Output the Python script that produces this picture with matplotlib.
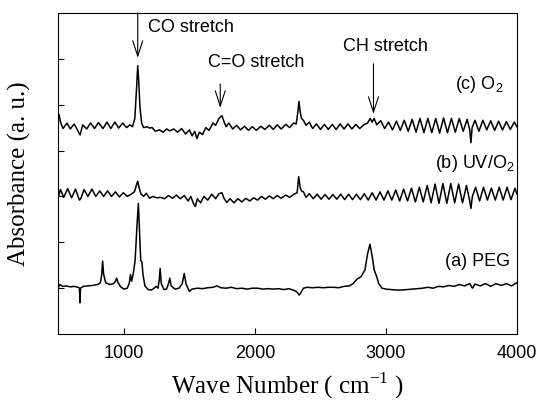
import numpy as np
import matplotlib
matplotlib.use("Agg")
import matplotlib.pyplot as plt

# spectra (wave number in cm-1, absorbance in a.u.)
wn_a = [500, 510, 530, 560, 590, 620, 650, 660, 664, 668, 690, 720, 760, 800, 820, 830, 837, 845,
        860, 890, 920, 935, 944, 955, 975, 1000, 1025, 1040, 1050, 1058, 1070, 1085, 1100, 1110,
        1118, 1128, 1137, 1145, 1160, 1185, 1210, 1230, 1245, 1260, 1270, 1276, 1285, 1305, 1325,
        1340, 1350, 1360, 1390, 1420, 1445, 1460, 1475, 1500, 1520, 1560, 1600, 1640, 1680, 1710,
        1740, 1780, 1820, 1860, 1900, 1940, 1980, 2020, 2060, 2100, 2140, 2180, 2220, 2260, 2300,
        2320, 2338, 2350, 2370, 2400, 2440, 2480, 2520, 2560, 2600, 2640, 2680, 2720, 2750, 2780,
        2810, 2840, 2860, 2878, 2895, 2910, 2930, 2945, 2970, 3000, 3040, 3080, 3120, 3160, 3200,
        3240, 3280, 3320, 3360, 3400, 3440, 3480, 3520, 3560, 3600, 3640, 3660, 3680, 3720, 3760,
        3800, 3840, 3880, 3920, 3960, 4000]
ab_a = [1.02, 1.08, 1.04, 1.05, 1.03, 1.04, 1.02, 1.0, 0.68, 1.0, 1.04, 1.05, 1.06, 1.08, 1.12,
        1.3, 1.59, 1.3, 1.12, 1.08, 1.1, 1.15, 1.22, 1.12, 1.03, 0.98, 1.0, 1.1, 1.3, 1.15, 1.3,
        1.6, 2.4, 2.85, 2.3, 1.6, 1.57, 1.3, 1.05, 0.97, 0.96, 1.0, 1.04, 1.0, 1.2, 1.43, 1.1, 0.97,
        0.98, 1.1, 1.22, 1.05, 0.98, 1.0, 1.1, 1.32, 1.08, 0.93, 0.98, 1.0, 0.99, 1.01, 1.02, 1.05,
        1.01, 1.0, 1.02, 0.99, 1.0, 0.98, 1.0, 1.0, 0.98, 0.99, 0.98, 0.99, 0.97, 0.99, 0.95, 0.92,
        0.85, 0.9, 1.0, 1.02, 1.01, 1.02, 1.01, 1.02, 1.02, 1.01, 1.04, 1.05, 1.1, 1.2, 1.25, 1.4,
        1.75, 1.96, 1.7, 1.4, 1.25, 1.1, 1.0, 0.98, 0.97, 0.96, 0.96, 0.97, 0.98, 0.99, 1.0, 1.02,
        1.0, 1.04, 1.03, 1.06, 1.04, 1.08, 1.05, 1.1, 1.0, 1.09, 1.05, 1.1, 1.04, 1.1, 1.06, 1.1,
        1.05, 1.12]

wn_b = [500, 515, 540, 570, 600, 630, 660, 670, 695, 725, 755, 785, 815, 845, 875, 905, 935, 965,
        995, 1025, 1055, 1080, 1095, 1105, 1115, 1130, 1150, 1170, 1195, 1220, 1250, 1280, 1310,
        1340, 1370, 1400, 1430, 1460, 1490, 1510, 1530, 1545, 1560, 1585, 1610, 1640, 1670, 1700,
        1725, 1748, 1765, 1785, 1810, 1840, 1870, 1900, 1930, 1960, 1990, 2020, 2050, 2080, 2110,
        2140, 2170, 2200, 2235, 2265, 2300, 2322, 2334, 2345, 2355, 2370, 2390, 2415, 2445, 2475,
        2505, 2535, 2565, 2595, 2625, 2655, 2685, 2715, 2745, 2775, 2805, 2835, 2865, 2895, 2925,
        2955, 2985, 3015, 3045, 3075, 3105, 3135, 3165, 3195, 3225, 3255, 3285, 3315, 3345, 3375,
        3405, 3435, 3465, 3495, 3525, 3555, 3585, 3615, 3640, 3649, 3660, 3685, 3715, 3745, 3775,
        3805, 3835, 3865, 3895, 3925, 3955, 3985, 4000]
ab_b = [3.0, 3.15, 2.98, 3.17, 2.97, 3.16, 2.92, 2.95, 3.15, 3.0, 3.16, 3.0, 3.12, 3.0, 3.12, 3.0,
        3.1, 2.99, 3.08, 3.0, 3.05, 3.1, 3.25, 3.33, 3.2, 3.05, 3.0, 3.07, 2.96, 3.0, 2.97, 2.98,
        2.95, 3.02, 2.96, 3.03, 2.95, 3.02, 2.9, 3.0, 2.85, 2.78, 2.95, 2.86, 3.0, 2.92, 3.05, 2.95,
        3.06, 3.08, 2.95, 2.87, 2.95, 2.86, 2.95, 2.88, 2.96, 2.9, 2.97, 2.92, 3.0, 2.94, 3.01,
        2.95, 3.02, 2.96, 3.03, 2.98, 3.05, 3.08, 3.43, 3.2, 3.12, 3.1, 2.98, 3.06, 2.95, 3.05,
        2.94, 3.04, 2.94, 3.04, 2.94, 3.05, 2.93, 3.05, 2.93, 3.05, 2.93, 3.06, 2.92, 3.08, 2.92,
        3.1, 2.92, 3.12, 2.92, 3.14, 2.9, 3.16, 2.9, 3.18, 2.88, 3.2, 2.88, 3.24, 2.86, 3.27,
        2.85, 3.28, 2.85, 3.28, 2.86, 3.27, 2.86, 3.24, 2.9, 2.74, 3.0, 3.2, 2.9, 3.2, 2.92,
        3.18, 2.92, 3.2, 2.92, 3.2, 2.93, 3.18, 3.05]

wn_c = [505, 515, 535, 565, 590, 620, 650, 665, 685, 715, 745, 775, 805, 840, 870, 900, 930, 960,
        990, 1020, 1045, 1065, 1083, 1095, 1105, 1113, 1122, 1135, 1150, 1175, 1195, 1215, 1240,
        1270, 1300, 1325, 1350, 1380, 1410, 1440, 1470, 1500, 1520, 1540, 1557, 1575, 1600, 1625,
        1650, 1680, 1700, 1725, 1748, 1765, 1780, 1800, 1830, 1860, 1890, 1920, 1950, 1980, 2010,
        2045, 2075, 2110, 2140, 2170, 2200, 2235, 2265, 2295, 2315, 2328, 2336, 2345, 2355, 2370,
        2390, 2415, 2440, 2470, 2500, 2530, 2560, 2590, 2620, 2650, 2680, 2710, 2740, 2770, 2800,
        2830, 2860, 2880, 2895, 2910, 2930, 2960, 2990, 3020, 3050, 3080, 3110, 3140, 3170, 3200,
        3230, 3260, 3290, 3320, 3350, 3380, 3410, 3440, 3470, 3500, 3530, 3560, 3590, 3620, 3640,
        3649, 3658, 3680, 3710, 3740, 3770, 3800, 3830, 3860, 3890, 3920, 3950, 3980, 4000]
ab_c = [4.78, 4.62, 4.48, 4.6, 4.47, 4.58, 4.42, 4.34, 4.56, 4.47, 4.6, 4.48, 4.61, 4.48, 4.62,
        4.48, 4.62, 4.49, 4.6, 4.5, 4.56, 4.52, 4.7, 5.3, 5.85, 5.5, 4.95, 4.6, 4.5, 4.52, 4.49,
        4.5, 4.42, 4.45, 4.4, 4.47, 4.43, 4.47, 4.4, 4.48, 4.36, 4.45, 4.32, 4.42, 4.26, 4.4, 4.35,
        4.5, 4.44, 4.6, 4.55, 4.7, 4.76, 4.62, 4.52, 4.6, 4.47, 4.55, 4.45, 4.53, 4.44, 4.52, 4.44,
        4.53, 4.46, 4.55, 4.46, 4.56, 4.47, 4.57, 4.5, 4.6, 4.58, 4.85, 5.07, 4.85, 4.7, 4.66,
        4.55, 4.62, 4.48, 4.58, 4.46, 4.57, 4.46, 4.57, 4.46, 4.58, 4.47, 4.58, 4.47, 4.57, 4.48,
        4.56, 4.6, 4.7, 4.62, 4.7, 4.56, 4.65, 4.48, 4.62, 4.45, 4.64, 4.44, 4.66, 4.42, 4.68,
        4.4, 4.7, 4.39, 4.7, 4.39, 4.7, 4.38, 4.71, 4.39, 4.7, 4.4, 4.7, 4.42, 4.68, 4.45,
        4.17, 4.5, 4.66, 4.42, 4.66, 4.45, 4.65, 4.44, 4.64, 4.45, 4.63, 4.46, 4.62, 4.52]

fig = plt.figure(figsize=(5.39, 4.03), dpi=100)
ax = fig.add_axes([0.1085, 0.171, 0.8505, 0.797])

for wn, ab in [(wn_a, ab_a), (wn_b, ab_b), (wn_c, ab_c)]:
    ax.plot(wn, ab, color="black", lw=1.1)

sans = "Liberation Sans"
serif = "Liberation Serif"
arr = dict(arrowstyle="->,head_length=1.1,head_width=0.36", color="black", lw=0.8,
           shrinkA=0, shrinkB=0)

# peak markers
ax.annotate("", xy=(1105, 6.02), xytext=(1105, 7.0), arrowprops=arr)
ax.annotate("", xy=(1735, 4.93), xytext=(1735, 5.45), arrowprops=arr)
ax.annotate("", xy=(2905, 4.8), xytext=(2905, 5.89), arrowprops=arr)
ax.text(1183, 6.68, "CO stretch", family=sans, fontsize=13, va="center", ha="left")
ax.text(1641, 5.92, "C=O stretch", family=sans, fontsize=13, va="center", ha="left")
ax.text(2672, 6.26, "CH stretch", family=sans, fontsize=13, va="center", ha="left")

ax.text(3527, 5.43, r"(c) O$_\mathregular{2}$", family=sans, fontsize=13, va="center")
ax.text(3374, 3.72, r"(b) UV/O$_\mathregular{2}$", family=sans, fontsize=13, va="center")
ax.text(3450, 1.58, "(a) PEG", family=sans, fontsize=13, va="center")

ax.set_xlim(500, 4000)
ax.set_ylim(0, 7)
ax.set_xticks([1000, 2000, 3000, 4000])
ax.set_yticks([1, 2, 3, 4, 5, 6])
ax.set_yticklabels([])
ax.tick_params(direction="in", length=4, width=0.8, pad=8)
for lab in ax.get_xticklabels():
    lab.set_family(sans)
    lab.set_fontsize(13)
for s in ax.spines.values():
    s.set_linewidth(0.8)

ax.set_xlabel(r"Wave Number ( cm$^{\mathregular{-1}}$ )", family=serif, fontsize=18, labelpad=6)
ax.set_ylabel("Absorbance (a. u.)", family=serif, fontsize=18, labelpad=12)

fig.savefig("out.png", dpi=100)
